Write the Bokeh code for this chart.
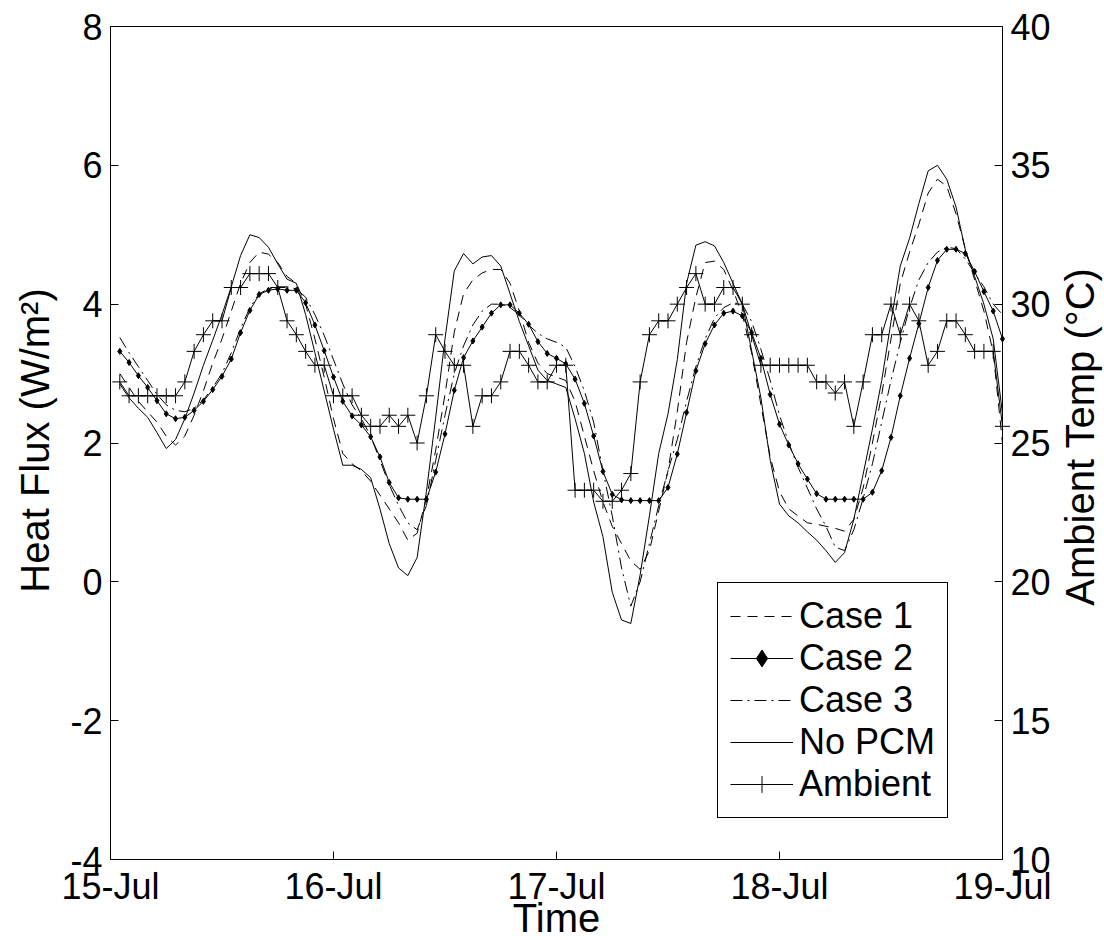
import math
from bokeh.plotting import figure
from bokeh.models import (Range1d, LinearAxis, FixedTicker, Legend, LegendItem,
                          Label)
from bokeh.embed import file_html
from bokeh.resources import INLINE

# ---------------- data ----------------
hours = list(range(1, 97))          # hourly samples from 15-Jul 01:00
day_ticks = [0, 1, 2, 3, 4]
day_labels = ["15-Jul", "16-Jul", "17-Jul", "18-Jul", "19-Jul"]
flux_ticks = [-4, -2, 0, 2, 4, 6, 8]
flux_labels = ["-4", "-2", "0", "2", "4", "6", "8"]
temp_ticks = [10, 15, 20, 25, 30, 35, 40]
temp_labels = ["10", "15", "20", "25", "30", "35", "40"]

case1 = [3.00, 2.80, 2.60, 2.45, 2.30, 2.10, 1.97, 2.10, 2.40, 2.75, 3.15, 3.50,
         3.90, 4.30, 4.60, 4.75, 4.72, 4.60, 4.40, 4.30, 4.00, 3.50, 2.95, 2.35,
         1.85, 1.70, 1.60, 1.45, 1.25, 1.05, 0.85, 0.60, 0.70, 1.20, 1.90, 2.70,
         3.60, 4.15, 4.35, 4.45, 4.50, 4.50, 4.30, 3.90, 3.45, 3.15, 3.00, 2.95,
         2.90, 2.60, 2.10, 1.60, 1.15, 0.80, 0.55, 0.30, 0.18, 0.45, 1.02, 1.60,
         2.45, 3.45, 4.10, 4.60, 4.62, 4.50, 4.20, 3.85, 3.30, 2.55, 1.80, 1.30,
         1.05, 0.95, 0.85, 0.83, 0.80, 0.77, 0.73, 0.90, 1.35, 2.00, 2.70, 3.50,
         4.30, 4.75, 5.15, 5.60, 5.80, 5.70, 5.30, 4.80, 4.35, 3.90, 3.30, 2.00]

case2 = [3.32, 3.16, 2.97, 2.80, 2.61, 2.42, 2.35, 2.37, 2.47, 2.60, 2.77, 2.96,
         3.21, 3.59, 3.91, 4.14, 4.20, 4.22, 4.20, 4.20, 4.02, 3.70, 3.33, 2.95,
         2.60, 2.39, 2.26, 2.09, 1.80, 1.43, 1.21, 1.19, 1.19, 1.19, 1.58, 2.13,
         2.76, 3.23, 3.47, 3.67, 3.87, 3.99, 3.99, 3.87, 3.71, 3.46, 3.29, 3.22,
         3.14, 2.92, 2.57, 2.10, 1.59, 1.26, 1.18, 1.17, 1.17, 1.17, 1.17, 1.36,
         1.84, 2.44, 3.04, 3.43, 3.70, 3.87, 3.90, 3.83, 3.59, 3.22, 2.70, 2.27,
         1.97, 1.70, 1.48, 1.27, 1.19, 1.19, 1.19, 1.19, 1.19, 1.29, 1.60, 2.08,
         2.68, 3.22, 3.72, 4.24, 4.63, 4.79, 4.79, 4.73, 4.47, 4.18, 3.90, 3.50]

case3 = [3.52, 3.30, 3.10, 2.90, 2.70, 2.55, 2.47, 2.45, 2.50, 2.62, 2.80, 3.00,
         3.30, 3.65, 3.95, 4.15, 4.22, 4.25, 4.25, 4.22, 4.10, 3.85, 3.55, 3.20,
         2.85, 2.55, 2.35, 2.10, 1.75, 1.40, 1.10, 0.85, 0.75, 1.10, 1.75, 2.40,
         3.00, 3.40, 3.70, 3.90, 4.00, 4.00, 3.95, 3.85, 3.70, 3.58, 3.50, 3.45,
         3.38, 3.10, 2.75, 2.30, 1.60, 0.95, 0.20, -0.35, 0.00, 0.55, 1.10, 1.60,
         2.05, 2.60, 3.10, 3.50, 3.80, 3.95, 4.02, 4.00, 3.75, 3.35, 2.90, 2.40,
         2.00, 1.65, 1.35, 1.05, 0.80, 0.50, 0.45, 0.75, 1.20, 1.70, 2.30, 2.90,
         3.45, 3.95, 4.35, 4.60, 4.75, 4.82, 4.80, 4.65, 4.45, 4.25, 4.00, 3.85]

no_pcm = [2.85, 2.65, 2.50, 2.37, 2.15, 1.92, 2.05, 2.35, 2.72, 3.12, 3.48, 3.85,
          4.25, 4.70, 5.00, 4.96, 4.82, 4.58, 4.36, 4.30, 3.85, 3.30, 2.75, 2.20,
          1.68, 1.68, 1.62, 1.50, 1.05, 0.55, 0.20, 0.09, 0.35, 1.30, 2.37, 3.50,
          4.48, 4.73, 4.58, 4.68, 4.70, 4.55, 4.15, 3.75, 3.40, 3.05, 2.90, 2.85,
          2.80, 2.35, 1.85, 1.15, 0.65, -0.15, -0.55, -0.60, 0.10, 0.95, 1.85, 2.42,
          3.20, 4.30, 4.85, 4.90, 4.84, 4.60, 4.30, 4.00, 3.33, 2.65, 1.75, 1.12,
          0.95, 0.85, 0.72, 0.60, 0.45, 0.28, 0.42, 0.90, 1.55, 2.20, 2.90, 3.75,
          4.55, 4.95, 5.45, 5.92, 6.00, 5.80, 5.40, 4.78, 4.40, 4.00, 3.50, 2.42]

ambient = [27.2, 26.7, 26.7, 26.7, 26.7, 26.7, 26.7, 27.2, 28.3, 28.9, 29.4, 29.4,
           30.6, 30.6, 31.1, 31.1, 31.1, 30.6, 29.4, 28.9, 28.3, 27.8, 27.8, 26.7,
           26.7, 26.7, 26.0, 25.6, 25.6, 26.0, 25.6, 26.0, 25.0, 26.7, 28.9, 28.3,
           27.8, 27.8, 25.6, 26.7, 26.7, 27.2, 28.3, 28.3, 27.8, 27.2, 27.2, 27.8,
           27.8, 23.3, 23.3, 23.3, 22.9, 22.9, 23.3, 23.9, 27.2, 28.9, 29.4, 29.4,
           30.0, 30.6, 31.1, 30.0, 30.0, 30.6, 30.6, 30.0, 28.9, 27.8, 27.8, 27.8,
           27.8, 27.8, 27.8, 27.2, 27.2, 26.8, 27.2, 25.6, 27.2, 28.9, 28.9, 30.0,
           28.9, 30.0, 29.4, 27.8, 28.3, 29.4, 29.4, 28.9, 28.3, 28.3, 28.3, 25.6]

# time in days since 15-Jul 00:00
t = [h / 24.0 for h in hours]

FONT = "Liberation Sans"
FS = "36px"          # tick labels and legend
TITLE_FS = "40px"    # axis titles

# ---------------- layout constants (pixels) ----------------
W, H = 1104, 940
AX_LEFT, AX_RIGHT = 110, 1002      # x pixels of 15-Jul and 19-Jul
AX_TOP, AX_BOTTOM = 26, 859        # y pixels of flux 8 and flux -4
PX_PER_DAY = (AX_RIGHT - AX_LEFT) / 4.0
PX_PER_FLUX = (AX_BOTTOM - AX_TOP) / 12.0

x_lo = -AX_LEFT / PX_PER_DAY
x_hi = 4 + (W - AX_RIGHT) / PX_PER_DAY
y_hi = 8 + AX_TOP / PX_PER_FLUX
y_lo = 8 - (H - AX_TOP) / PX_PER_FLUX
t_lo = 10 + (y_lo + 4) * 2.5          # 12 flux units <-> 30 degC
t_hi = 10 + (y_hi + 4) * 2.5

def flux_at(py):
    return 8 - (py - AX_TOP) / PX_PER_FLUX

def day_at(px):
    return (px - AX_LEFT) / PX_PER_DAY

p = figure(width=W, height=H, output_backend="svg", toolbar_location=None,
           x_range=Range1d(x_lo, x_hi), y_range=Range1d(y_lo, y_hi),
           min_border=0, min_border_left=0, min_border_right=0,
           min_border_top=0, min_border_bottom=0,
           background_fill_color="white", border_fill_color="white")
p.extra_y_ranges = {"temp": Range1d(t_lo, t_hi)}
p.grid.visible = False
p.outline_line_color = None

# bottom axis pinned at flux -4
xa = p.xaxis[0]
xa.ticker = FixedTicker(ticks=day_ticks)
xa.major_label_overrides = {d: l for d, l in zip(day_ticks, day_labels)}
xa.bounds = (0, 4)
xa.fixed_location = -4

# top frame line pinned at flux 8
ta = LinearAxis(ticker=FixedTicker(ticks=[]), bounds=(0, 4), fixed_location=8)
ta.major_tick_line_color = None
ta.minor_tick_line_color = None
ta.major_label_text_font_size = "0px"
p.add_layout(ta, "above")

# left axis pinned at 15-Jul
ya = p.yaxis[0]
ya.ticker = FixedTicker(ticks=flux_ticks)
ya.major_label_overrides = {v: l for v, l in zip(flux_ticks, flux_labels)}
ya.bounds = (-4, 8)
ya.fixed_location = 0

# right axis pinned at 19-Jul
ra = LinearAxis(y_range_name="temp", bounds=(10, 40), fixed_location=4)
ra.ticker = FixedTicker(ticks=temp_ticks)
ra.major_label_overrides = {v: l for v, l in zip(temp_ticks, temp_labels)}
p.add_layout(ra, "right")

for ax in (xa, ya, ra, ta):
    ax.axis_line_color = "black"
    ax.axis_line_width = 1
for ax in (xa, ya, ra):
    ax.major_tick_line_color = "black"
    ax.major_tick_in = 8
    ax.major_tick_out = 0
    ax.minor_tick_line_color = None
    ax.major_label_text_font = FONT
    ax.major_label_text_font_size = FS
    ax.major_label_text_color = "black"
    ax.major_label_standoff = 8
xa.major_label_standoff = 6

# axis titles
def title(text, px, py, angle):
    return Label(x=day_at(px), y=flux_at(py), text=text, angle=angle,
                 text_align="center", text_baseline="middle",
                 text_font=FONT, text_font_size=TITLE_FS, text_color="black")

p.add_layout(title("Heat Flux (W/m²)", 34, 440, math.pi / 2))
p.add_layout(title("Ambient Temp (°C)", 1079, 436, math.pi / 2))
p.add_layout(title("Time", 556, 917, 0))

# ---------------- series ----------------
r1 = p.line(t, case1, line_color="black", line_width=1, line_dash="10 7")
r2l = p.line(t, case2, line_color="black", line_width=1)
r2m = p.scatter(t, case2, marker="diamond", size=6, fill_color="black",
                line_color="black")
r3 = p.line(t, case3, line_color="black", line_width=1, line_dash="12 5 2 5")
r4 = p.line(t, no_pcm, line_color="black", line_width=1)
r5l = p.line(t, ambient, line_color="black", line_width=1, y_range_name="temp")
r5m = p.scatter(t, ambient, marker="cross", size=15, line_color="black",
                line_width=1, y_range_name="temp")

legend = Legend(items=[
    LegendItem(label="Case 1", renderers=[r1]),
    LegendItem(label="Case 2", renderers=[r2l, r2m]),
    LegendItem(label="Case 3", renderers=[r3]),
    LegendItem(label="No PCM", renderers=[r4]),
    LegendItem(label="Ambient", renderers=[r5l, r5m]),
], location=(717, H - 818))
legend.label_text_font = FONT
legend.label_text_font_size = FS
legend.label_text_color = "black"
legend.border_line_color = "black"
legend.border_line_width = 1
legend.border_line_alpha = 1
legend.background_fill_color = "white"
legend.background_fill_alpha = 1
legend.padding = 12
legend.margin = 0
legend.spacing = 0
legend.glyph_width = 63
legend.glyph_height = 42
legend.label_height = 42
legend.label_standoff = 6
p.add_layout(legend, "center")

open("out.html", "w").write(file_html(p, INLINE))
